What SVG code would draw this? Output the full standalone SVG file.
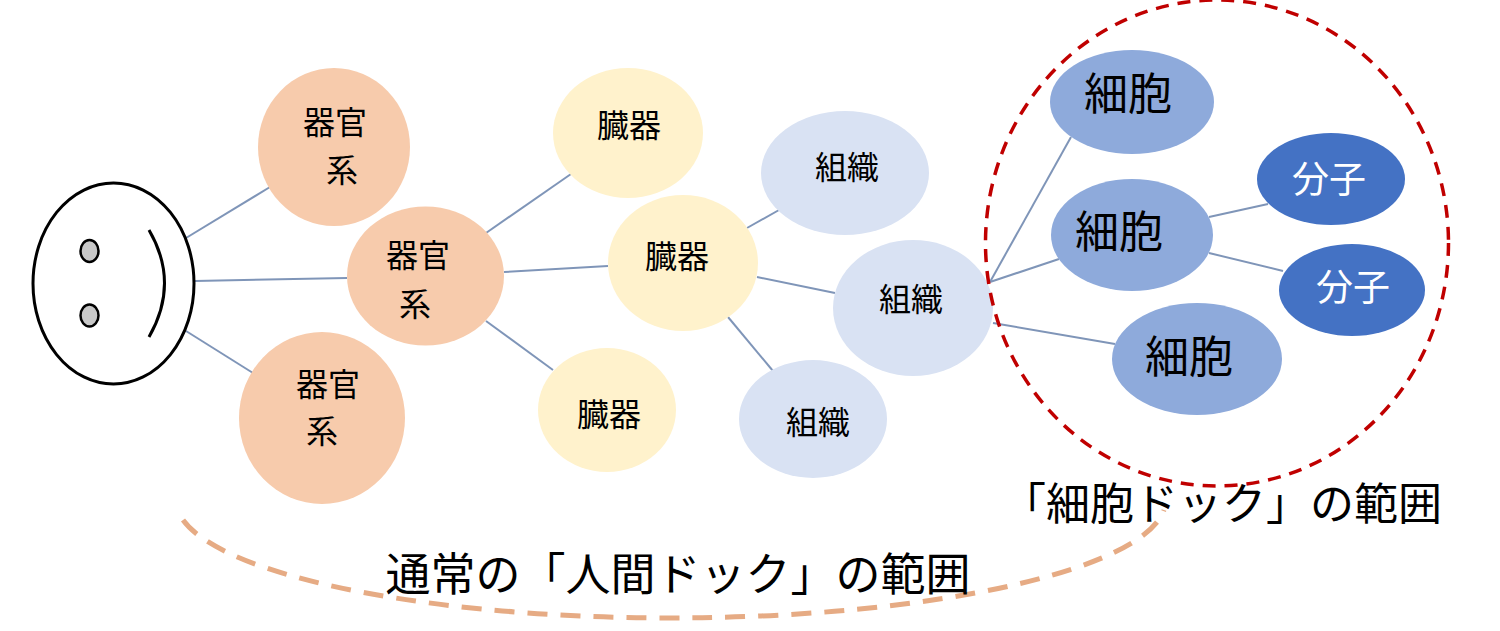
<svg xmlns="http://www.w3.org/2000/svg" width="1500" height="631" viewBox="0 0 1500 631">
<style>
text{font-family:"Noto Sans CJK JP","Noto Sans CJK SC",sans-serif;text-anchor:middle;fill:#000}
.sys{fill:#f7cbac}.org{fill:#fff2cc}.tis{fill:#d9e2f3}.cel{fill:#8eaadb}.mol{fill:#4472c4}
.t32{font-size:32px}.t44{font-size:44px}.w{fill:#fff;font-size:37px}
.big{font-size:45px}.mid{font-size:44px}
#connectors line{stroke:#7f95b8;stroke-width:2}
</style>
<g id="connectors">
<line x1="186" y1="238" x2="270" y2="187"/>
<line x1="195" y1="281" x2="347" y2="278"/>
<line x1="186" y1="331" x2="253" y2="373"/>
<line x1="486" y1="233" x2="571" y2="174"/>
<line x1="504" y1="272" x2="608" y2="266"/>
<line x1="486" y1="321" x2="553" y2="370"/>
<line x1="747" y1="228" x2="779" y2="210"/>
<line x1="757" y1="277" x2="835" y2="293"/>
<line x1="728" y1="317" x2="773" y2="371"/>
<line x1="990" y1="282" x2="1071" y2="137"/>
<line x1="990" y1="282" x2="1059" y2="259"/>
<line x1="993" y1="323" x2="1115" y2="344"/>
<line x1="1209" y1="217" x2="1268" y2="204"/>
<line x1="1209" y1="253" x2="1283" y2="271"/>
</g>
<g id="face" fill="none" stroke="#000">
<ellipse cx="113.500" cy="283.500" rx="80.500" ry="100.500" fill="#fff" stroke-width="3"/>
<ellipse cx="89.500" cy="251" rx="9" ry="11" fill="#c8c8c8" stroke-width="2.500"/>
<ellipse cx="89.500" cy="315.500" rx="9" ry="11" fill="#c8c8c8" stroke-width="2.500"/>
<path d="M149 230Q180 283 149 337" stroke-width="3"/>
</g>
<g id="sys1"><ellipse class="sys" cx="334" cy="147" rx="76" ry="79"/><text class="t32" x="335" y="134">器官</text><text class="t32" x="342" y="182">系</text></g>
<g id="sys2"><ellipse class="sys" cx="425.500" cy="276" rx="78.500" ry="69.500"/><text class="t32" x="418" y="267">器官</text><text class="t32" x="415" y="316">系</text></g>
<g id="sys3"><ellipse class="sys" cx="322" cy="418" rx="83" ry="86"/><text class="t32" x="328" y="396">器官</text><text class="t32" x="322" y="443">系</text></g>
<g id="org1"><ellipse class="org" cx="628" cy="133" rx="75" ry="65"/><text class="t32" x="629" y="137">臓器</text></g>
<g id="org2"><ellipse class="org" cx="683" cy="263" rx="75" ry="68"/><text class="t32" x="677" y="268">臓器</text></g>
<g id="org3"><ellipse class="org" cx="607" cy="410" rx="69" ry="62"/><text class="t32" x="609" y="426">臓器</text></g>
<g id="tis1"><ellipse class="tis" cx="845" cy="173" rx="84" ry="62"/><text class="t32" x="847" y="179">組織</text></g>
<g id="tis2"><ellipse class="tis" cx="913" cy="308" rx="80" ry="68"/><text class="t32" x="911" y="311">組織</text></g>
<g id="tis3"><ellipse class="tis" cx="813" cy="419" rx="74" ry="59"/><text class="t32" x="818" y="434">組織</text></g>
<g id="cel1"><ellipse class="cel" cx="1132" cy="102" rx="82" ry="52"/><text class="t44" x="1128" y="110">細胞</text></g>
<g id="cel2"><ellipse class="cel" cx="1132" cy="235" rx="81" ry="56"/><text class="t44" x="1119" y="248">細胞</text></g>
<g id="cel3"><ellipse class="cel" cx="1197" cy="359" rx="85" ry="56"/><text class="t44" x="1189" y="373">細胞</text></g>
<g id="mol1"><ellipse class="mol" cx="1331" cy="179" rx="74" ry="46"/><text class="w" x="1329" y="193">分子</text></g>
<g id="mol2"><ellipse class="mol" cx="1352" cy="290" rx="73" ry="46"/><text class="w" x="1353" y="301">分子</text></g>
<ellipse id="cell-range" cx="1217" cy="243" rx="231.500" ry="243" fill="none" stroke="#c00000" stroke-width="3.500" stroke-dasharray="13 9"/>
<path id="human-range" d="M183 520A495 118 0 0 0 1164 510" fill="none" stroke="#e6ab84" stroke-width="5" stroke-dasharray="20 13"/>
<text id="label-cell" class="mid" x="1222" y="520">「細胞ドック」の範囲</text>
<text id="label-human" class="big" x="678" y="591">通常の「人間ドック」の範囲</text>
</svg>
